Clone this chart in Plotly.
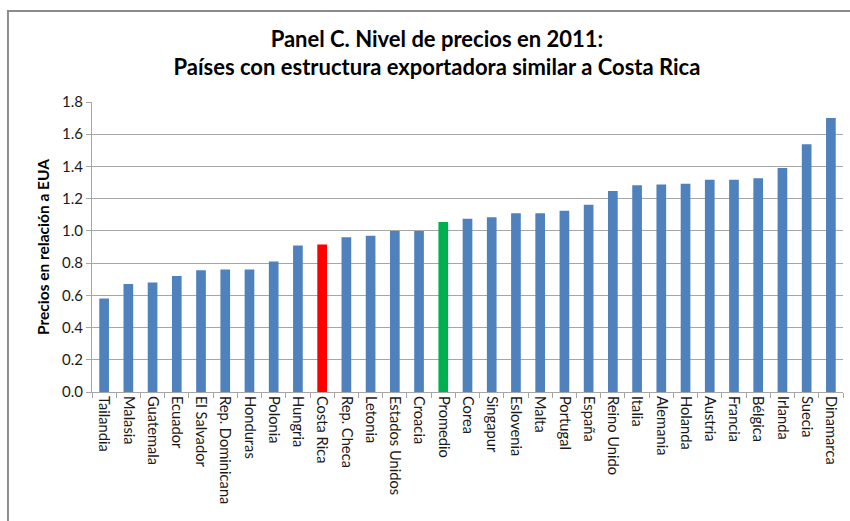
import plotly.graph_objects as go

AZUL = "#4f81bd"
ROJO = "#ff0000"
VERDE = "#00b050"
GRIS = "#a6a6a6"

paises = [
    "Tailandia", "Malasia", "Guatemala", "Ecuador", "El Salvador",
    "Rep. Dominicana", "Honduras", "Polonia", "Hungria", "Costa Rica",
    "Rep. Checa", "Letonia", "Estados Unidos", "Croacia", "Promedio",
    "Corea", "Singapur", "Eslovenia", "Malta", "Portugal", "España",
    "Reino Unido", "Italia", "Alemania", "Holanda", "Austria", "Francia",
    "Bélgica", "Irlanda", "Suecia", "Dinamarca",
]
precios = [
    0.58, 0.67, 0.68, 0.72, 0.755,
    0.76, 0.76, 0.81, 0.91, 0.915,
    0.96, 0.97, 1.00, 1.00, 1.055,
    1.075, 1.085, 1.11, 1.11, 1.125, 1.163,
    1.248, 1.284, 1.288, 1.292, 1.317, 1.317,
    1.327, 1.391, 1.538, 1.70,
]
destacados = {"Costa Rica": ROJO, "Promedio": VERDE}
colores = [destacados.get(p, AZUL) for p in paises]

fig = go.Figure(go.Bar(x=paises, y=precios, marker_color=colores,
                       marker_line_width=0))

fig.update_layout(
    width=850, height=521,
    plot_bgcolor="white",
    paper_bgcolor="white",
    font=dict(family="Lato", color="black", size=14),
    title=dict(
        text="Panel C. Nivel de precios en 2011:<br>Países con estructura exportadora similar a Costa Rica",
        x=0.514, xanchor="center", y=0.91, yanchor="top",
        font=dict(family="Lato", size=22, color="black", weight="bold"),
    ),
    margin=dict(l=92, r=7, t=102, b=129),
    bargap=0.6,
    showlegend=False,
    shapes=[dict(type="rect", xref="paper", yref="paper",
                 x0=-0.1119, x1=1.2, y0=-0.6, y1=1.3138,
                 line=dict(color="#8c8c8c", width=2), layer="below")],
)
fig.update_xaxes(
    tickangle=90, showline=True, linecolor=GRIS, linewidth=1,
    ticks="outside", tickson="boundaries", ticklen=5, tickcolor=GRIS,
    tickfont=dict(size=14.7, color="#1a1a1a"),
)
fig.update_yaxes(
    range=[0, 1.8], dtick=0.2, tickformat=".1f",
    showgrid=True, gridcolor=GRIS, gridwidth=1,
    showline=True, linecolor=GRIS, linewidth=1,
    ticks="outside", ticklen=5, tickcolor=GRIS,
    tickfont=dict(size=15, color="#1a1a1a"),
    title=dict(text="Precios en relación a EUA", standoff=8,
               font=dict(size=15.5, weight="bold")),
    zeroline=False,
)

fig.write_html("out.html", config={"displayModeBar": False},
               post_script="document.body.style.margin='0';")
